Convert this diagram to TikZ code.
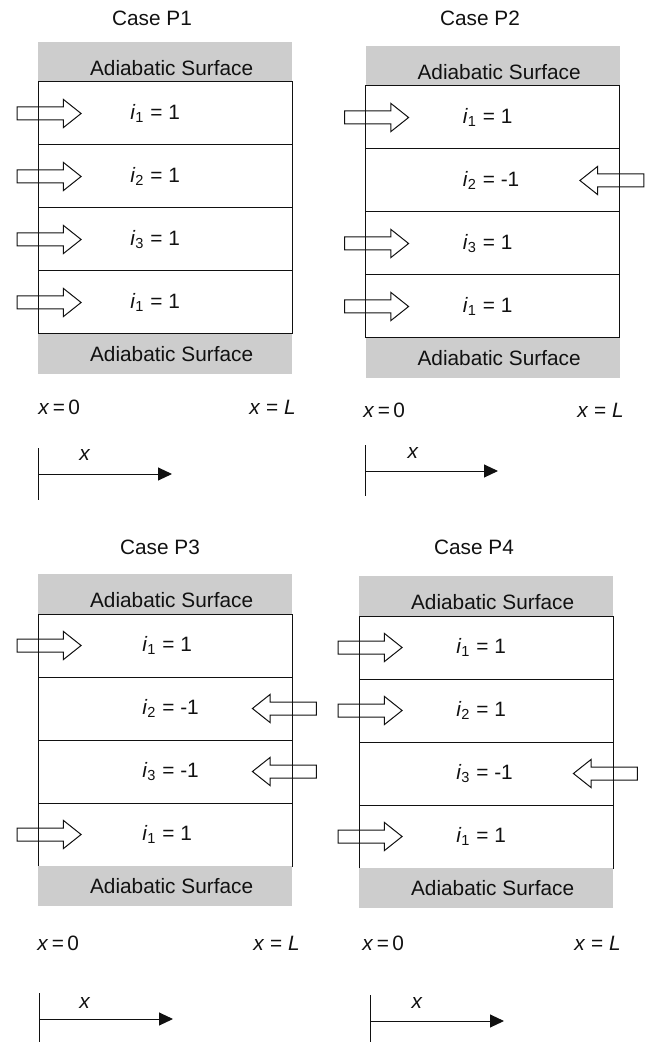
\documentclass[tikz,border=0pt]{standalone}
\usepackage{fontspec}
\setmainfont{Liberation Sans}
\usepackage{tikz}
\usetikzlibrary{arrows.meta, positioning, shapes.arrows}
\definecolor{bandgray}{HTML}{CDCDCD}
\definecolor{ink}{HTML}{111111}
\tikzset{
    txt/.style={font=\fontsize{10.4}{12}\selectfont, text=ink, inner sep=0pt},
    band/.style={rectangle, fill=bandgray, outer sep=0pt, inner sep=0pt,
        minimum width=127pt, minimum height=20pt},
    layer/.style={rectangle, draw=ink, line width=0.5pt, outer sep=0pt,
        inner sep=0pt, minimum width=127pt, minimum height=31.5pt},
    bandtxt/.style={txt},
    val/.style={txt, anchor=west},
    flowin/.style={single arrow, draw=ink, line width=0.5pt, inner sep=3pt,
        minimum height=32pt, single arrow head extend=3.75pt,
        single arrow tip angle=77},
    flowback/.style={flowin, shape border rotate=180},
    axisln/.style={draw=ink, line width=0.5pt},
    axisarr/.style={-{Triangle[length=7pt, width=6.5pt]}, line width=0.5pt,
        color=ink},
}

\begin{document}
\begin{tikzpicture}[x=0.5pt, y=-0.5pt]

\useasboundingbox (0,0) rectangle (648,1042);

% ================================================================
%  CASE P1
% ================================================================

\node[txt] (p1title) at (152,18) {Case P1};

\node[band] (p1top) at (165,62) {};
\node[layer, below=0pt of p1top] (p1a) {};
\node[layer, below=0pt of p1a] (p1b) {};
\node[layer, below=0pt of p1b] (p1c) {};
\node[layer, below=0pt of p1c] (p1d) {};
\node[band, below=0pt of p1d] (p1bot) {};
\node[bandtxt] (p1toptxt) at ([xshift=3.3pt, yshift=-3pt]p1top.center)
    {Adiabatic Surface};
\node[bandtxt] (p1bottxt) at ([xshift=3.3pt]p1bot.center)
    {Adiabatic Surface};

\node[val] (p1va) at ([xshift=46pt]p1a.west) {\textit{i}\textsubscript{1} = 1};
\node[val] (p1vb) at ([xshift=46pt]p1b.west) {\textit{i}\textsubscript{2} = 1};
\node[val] (p1vc) at ([xshift=46pt]p1c.west) {\textit{i}\textsubscript{3} = 1};
\node[val] (p1vd) at ([xshift=46pt]p1d.west) {\textit{i}\textsubscript{1} = 1};

\node[flowin] (p1fa) at ([xshift=3.5pt]p1a.west) {};
\node[flowin] (p1fb) at ([xshift=3.5pt]p1b.west) {};
\node[flowin] (p1fc) at ([xshift=3.5pt]p1c.west) {};
\node[flowin] (p1fd) at ([xshift=3.5pt]p1d.west) {};

\node[txt, anchor=west] (p1x0) at (38,407) {\textit{x}\,=\,0};
\node[txt, anchor=east] (p1xL) at (296,407) {\textit{x} = \textit{L}};

\coordinate (p1ax)    at (38,474);
\coordinate (p1axend) at (172,474);
\coordinate (p1tickt) at (38,448);
\coordinate (p1tickb) at (38,500);
\draw[axisln] (p1tickt) -- (p1tickb);
\draw[axisarr] (p1ax) -- (p1axend);
\node[txt] (p1xl) at (85,455) {\textit{x}};

% ================================================================
%  CASE P2
% ================================================================

\node[txt] (p2title) at (480,18) {Case P2};

\node[band] (p2top) at (492.5,66) {};
\node[layer, below=0pt of p2top] (p2a) {};
\node[layer, below=0pt of p2a] (p2b) {};
\node[layer, below=0pt of p2b] (p2c) {};
\node[layer, below=0pt of p2c] (p2d) {};
\node[band, below=0pt of p2d] (p2bot) {};
\node[bandtxt] (p2toptxt) at ([xshift=3.3pt, yshift=-3pt]p2top.center)
    {Adiabatic Surface};
\node[bandtxt] (p2bottxt) at ([xshift=3.3pt]p2bot.center)
    {Adiabatic Surface};

\node[val] (p2va) at ([xshift=48.5pt]p2a.west) {\textit{i}\textsubscript{1} = 1};
\node[val] (p2vb) at ([xshift=48.5pt]p2b.west) {\textit{i}\textsubscript{2} = -1};
\node[val] (p2vc) at ([xshift=48.5pt]p2c.west) {\textit{i}\textsubscript{3} = 1};
\node[val] (p2vd) at ([xshift=48.5pt]p2d.west) {\textit{i}\textsubscript{1} = 1};

\node[flowin]   (p2fa) at ([xshift=3.5pt]p2a.west) {};
\node[flowback] (p2fb) at ([xshift=-1.75pt]p2b.east) {};
\node[flowin]   (p2fc) at ([xshift=3.5pt]p2c.west) {};
\node[flowin]   (p2fd) at ([xshift=3.5pt]p2d.west) {};

\node[txt, anchor=west] (p2x0) at (363,410) {\textit{x}\,=\,0};
\node[txt, anchor=east] (p2xL) at (624,410) {\textit{x} = \textit{L}};

\coordinate (p2ax)    at (365,471);
\coordinate (p2axend) at (498,471);
\coordinate (p2tickt) at (365,445);
\coordinate (p2tickb) at (365,496);
\draw[axisln] (p2tickt) -- (p2tickb);
\draw[axisarr] (p2ax) -- (p2axend);
\node[txt] (p2xl) at (413,453) {\textit{x}};

% ================================================================
%  CASE P3
% ================================================================

\node[txt] (p3title) at (160,547) {Case P3};

\node[band] (p3top) at (165,594) {};
\node[layer, below=0pt of p3top] (p3a) {};
\node[layer, below=0pt of p3a] (p3b) {};
\node[layer, below=0pt of p3b] (p3c) {};
\node[layer, below=0pt of p3c] (p3d) {};
\node[band, below=0pt of p3d] (p3bot) {};
\node[bandtxt] (p3toptxt) at ([xshift=3.3pt, yshift=-3pt]p3top.center)
    {Adiabatic Surface};
\node[bandtxt] (p3bottxt) at ([xshift=3.3pt]p3bot.center)
    {Adiabatic Surface};

\node[val] (p3va) at ([xshift=52pt]p3a.west) {\textit{i}\textsubscript{1} = 1};
\node[val] (p3vb) at ([xshift=52pt]p3b.west) {\textit{i}\textsubscript{2} = -1};
\node[val] (p3vc) at ([xshift=52pt]p3c.west) {\textit{i}\textsubscript{3} = -1};
\node[val] (p3vd) at ([xshift=52pt]p3d.west) {\textit{i}\textsubscript{1} = 1};

\node[flowin]   (p3fa) at ([xshift=3.5pt]p3a.west) {};
\node[flowback] (p3fb) at ([xshift=-1.75pt]p3b.east) {};
\node[flowback] (p3fc) at ([xshift=-1.75pt]p3c.east) {};
\node[flowin]   (p3fd) at ([xshift=3.5pt]p3d.west) {};

\node[txt, anchor=west] (p3x0) at (37,943) {\textit{x}\,=\,0};
\node[txt, anchor=east] (p3xL) at (300,943) {\textit{x} = \textit{L}};

\coordinate (p3ax)    at (39,1019);
\coordinate (p3axend) at (173,1019);
\coordinate (p3tickt) at (39,993);
\coordinate (p3tickb) at (39,1042);
\draw[axisln] (p3tickt) -- (p3tickb);
\draw[axisarr] (p3ax) -- (p3axend);
\node[txt] (p3xl) at (85,1003) {\textit{x}};

% ================================================================
%  CASE P4
% ================================================================

\node[txt] (p4title) at (474,547) {Case P4};

\node[band] (p4top) at (486,596) {};
\node[layer, below=0pt of p4top] (p4a) {};
\node[layer, below=0pt of p4a] (p4b) {};
\node[layer, below=0pt of p4b] (p4c) {};
\node[layer, below=0pt of p4c] (p4d) {};
\node[band, below=0pt of p4d] (p4bot) {};
\node[bandtxt] (p4toptxt) at ([xshift=3.3pt, yshift=-3pt]p4top.center)
    {Adiabatic Surface};
\node[bandtxt] (p4bottxt) at ([xshift=3.3pt]p4bot.center)
    {Adiabatic Surface};

\node[val] (p4va) at ([xshift=48.5pt]p4a.west) {\textit{i}\textsubscript{1} = 1};
\node[val] (p4vb) at ([xshift=48.5pt]p4b.west) {\textit{i}\textsubscript{2} = 1};
\node[val] (p4vc) at ([xshift=48.5pt]p4c.west) {\textit{i}\textsubscript{3} = -1};
\node[val] (p4vd) at ([xshift=48.5pt]p4d.west) {\textit{i}\textsubscript{1} = 1};

\node[flowin]   (p4fa) at ([xshift=3.5pt]p4a.west) {};
\node[flowin]   (p4fb) at ([xshift=3.5pt]p4b.west) {};
\node[flowback] (p4fc) at ([xshift=-1.75pt]p4c.east) {};
\node[flowin]   (p4fd) at ([xshift=3.5pt]p4d.west) {};

\node[txt, anchor=west] (p4x0) at (362,943) {\textit{x}\,=\,0};
\node[txt, anchor=east] (p4xL) at (621,943) {\textit{x} = \textit{L}};

\coordinate (p4ax)    at (370,1021);
\coordinate (p4axend) at (504,1021);
\coordinate (p4tickt) at (370,995);
\coordinate (p4tickb) at (370,1042);
\draw[axisln] (p4tickt) -- (p4tickb);
\draw[axisarr] (p4ax) -- (p4axend);
\node[txt] (p4xl) at (417,1003) {\textit{x}};

\end{tikzpicture}
\end{document}
